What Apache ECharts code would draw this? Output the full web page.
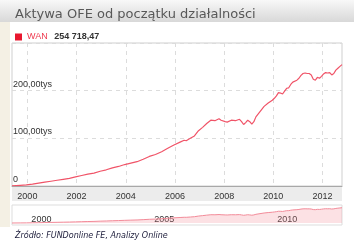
<!DOCTYPE html>
<html>
<head>
<meta charset="utf-8">
<script src="https://cdn.jsdelivr.net/npm/echarts@6/dist/echarts.min.js"></script>
<style>
  html, body { margin: 0; padding: 0; background: #fff; }
  #main { width: 354px; height: 247px; }
</style>
</head>
<body>
<div id="main"></div>
<script>
// month of reading -> net assets (mln zł)
const months = [
  "1999-05", "1999-09", "1999-12", "2000-03", "2000-06", "2000-09", "2000-12",
  "2001-03", "2001-06", "2001-09", "2001-12", "2002-03", "2002-06", "2002-09",
  "2002-12", "2003-03", "2003-06", "2003-09", "2003-12", "2004-03", "2004-06",
  "2004-09", "2004-12", "2005-03", "2005-06", "2005-09", "2005-12", "2006-03",
  "2006-05", "2006-06", "2006-08", "2006-10", "2006-12", "2007-02", "2007-04",
  "2007-06", "2007-08", "2007-10", "2007-11", "2008-01", "2008-02", "2008-04",
  "2008-06", "2008-08", "2008-09", "2008-10", "2008-11", "2008-12", "2009-01",
  "2009-02", "2009-03", "2009-04", "2009-06", "2009-08", "2009-10", "2009-12",
  "2010-01", "2010-02", "2010-03", "2010-04", "2010-05", "2010-06", "2010-07",
  "2010-08", "2010-09", "2010-10", "2010-12", "2011-01", "2011-02", "2011-03",
  "2011-04", "2011-05", "2011-06", "2011-07", "2011-08", "2011-09", "2011-10",
  "2011-11", "2011-12", "2012-01", "2012-02", "2012-03", "2012-04", "2012-05",
  "2012-06", "2012-07", "2012-08", "2012-09", "2012-10"
];
const assets = [
  500, 1500, 2300, 4000, 6000, 8000, 10000,
  12000, 14000, 16000, 19000, 22000, 25000, 27000,
  31000, 34000, 38000, 41000, 45000, 48000, 51000,
  56000, 62000, 66000, 72000, 79000, 86000, 92000,
  96000, 95000, 100000, 105000, 116000, 123000, 131000,
  138000, 137000, 141000, 138000, 135000, 134000, 138000,
  137000, 140000, 135000, 129000, 133000, 138000, 135000,
  130000, 135000, 145000, 156000, 167000, 174000, 180000,
  184000, 189000, 196000, 195000, 193000, 199000, 205000,
  206000, 213000, 218000, 222000, 226000, 232000, 236000,
  237000, 236000, 236000, 233000, 224000, 222000, 228000,
  226000, 230000, 235000, 238000, 237000, 238000, 233000,
  236000, 243000, 247000, 251000, 254718.47
];
const yearTicks = [2000, 2002, 2004, 2006, 2008, 2010, 2012];
const navTicks = [2000, 2005, 2010];

const seriesName = "WAN";
const lineColor = "#f05468";
const font = "'Liberation Sans', Arial, sans-serif";

// mid-month as decimal year
function toYear(s) {
  const [y, m] = s.split("-").map(Number);
  return y + (m - 0.5) / 12;
}
const points = months.map((m, i) => [toYear(m), assets[i]]);
const xMin = points[0][0];
const xMax = points[points.length - 1][0];

function plNumber(v) {
  const [a, b] = v.toFixed(2).split(".");
  return a.replace(/\B(?=(\d{3})+(?!\d))/g, " ") + "," + b;
}
function tys(v) {
  if (v === 0) return "0";
  return (v / 1000).toFixed(2).replace(".", ",") + "tys";
}
const yearLabel = (v) => String(Math.round(v));

const chart = echarts.init(document.getElementById("main"));

const option = {
  animation: false,
  title: [
    {
      text: "Aktywa OFE od początku działalności",
      left: 10,
      top: 3,
      textStyle: { fontFamily: "'DejaVu Sans', Verdana, sans-serif", fontSize: 13, fontWeight: "normal", color: "#585858" },
    },
    {
      text: "Źródło: FUNDonline FE, Analizy Online",
      left: 10,
      top: 227,
      textStyle: { fontFamily: "'DejaVu Sans', Verdana, sans-serif", fontSize: 8, fontStyle: "italic", fontWeight: "normal", color: "#1c1c3a" },
    },
  ],
  graphic: [
    {
      type: "rect",
      z: -1,
      shape: { x: 0, y: 0, width: 354, height: 22 },
      style: {
        fill: new echarts.graphic.LinearGradient(0, 0, 0, 1, [
          { offset: 0, color: "#f8f8f8" },
          { offset: 1, color: "#d8d8d8" },
        ]),
      },
    },
    { type: "rect", z: -1, shape: { x: 0, y: 22, width: 10, height: 205 }, style: { fill: "#f4f0e4" } },
    { type: "rect", z: -1, shape: { x: 12, y: 186, width: 330, height: 15 }, style: { fill: "#ececec" } },
  ],
  legend: {
    left: 10,
    top: 26,
    icon: "rect",
    itemWidth: 7,
    itemHeight: 7,
    selectedMode: false,
    data: [seriesName],
    formatter: (name) => `{a|${name}}  {b|${plNumber(assets[assets.length - 1])}}`,
    textStyle: {
      rich: {
        a: { fontFamily: font, fontSize: 9, color: "#ee3a4f" },
        b: { fontFamily: font, fontSize: 9, fontWeight: "bold", color: "#333" },
      },
    },
  },
  grid: [
    { left: 12, top: 43, width: 330, height: 143, show: true, borderColor: "#cfcfcf", borderWidth: 1 },
    { left: 12, top: 205, width: 330, height: 20, show: true, borderColor: "#dddddd", borderWidth: 1 },
  ],
  xAxis: [
    {
      type: "value",
      gridIndex: 0,
      min: xMin,
      max: xMax,
      axisLine: { show: true, lineStyle: { color: "#a8a8a8" } },
      axisTick: { show: false, customValues: yearTicks },
      axisLabel: { customValues: yearTicks, formatter: yearLabel, margin: 6, fontFamily: font, fontSize: 9, color: "#333" },
      splitLine: { show: true, lineStyle: { color: "#dcdcdc", type: [4, 4] } },
    },
    {
      type: "value",
      gridIndex: 1,
      min: xMin,
      max: xMax,
      axisLine: { show: false },
      axisTick: { show: false, customValues: navTicks },
      axisLabel: {
        customValues: navTicks,
        formatter: yearLabel,
        inside: true,
        align: "left",
        margin: 1,
        padding: [0, 0, 0, 4],
        fontFamily: font,
        fontSize: 9,
        color: "#333",
      },
      splitLine: { show: false },
    },
  ],
  yAxis: [
    {
      type: "value",
      gridIndex: 0,
      min: 0,
      max: 300000,
      interval: 100000,
      axisLine: { show: false },
      axisTick: { show: false },
      axisLabel: {
        inside: true,
        margin: 1,
        verticalAlign: "bottom",
        padding: [0, 0, 2, 0],
        fontFamily: font,
        fontSize: 9,
        color: "#333",
        formatter: tys,
        showMaxLabel: false,
      },
      splitLine: { show: true, lineStyle: { color: "#dcdcdc", type: [4, 4] } },
    },
    {
      type: "value",
      gridIndex: 1,
      min: -33000,
      max: 300000,
      axisLine: { show: false },
      axisTick: { show: false },
      axisLabel: { show: false },
      splitLine: { show: false },
    },
  ],
  series: [
    {
      name: seriesName,
      type: "line",
      xAxisIndex: 0,
      yAxisIndex: 0,
      data: points,
      showSymbol: false,
      silent: true,
      color: "#e8172f",
      lineStyle: { color: lineColor, width: 1.2 },
    },
    {
      name: "nav",
      type: "line",
      xAxisIndex: 1,
      yAxisIndex: 1,
      data: points,
      showSymbol: false,
      silent: true,
      lineStyle: { color: "#f28a98", width: 1 },
      areaStyle: { color: "rgba(244, 130, 146, 0.35)", origin: 0 },
    },
  ],
};

chart.setOption(option);
</script>
</body>
</html>
